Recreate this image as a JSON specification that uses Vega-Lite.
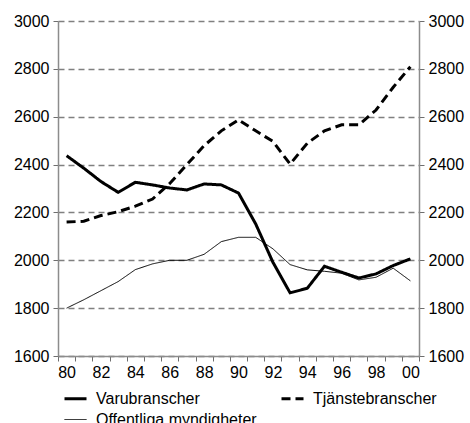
{
  "$schema": "https://vega.github.io/schema/vega-lite/v6.json",
  "width": 361,
  "height": 335,
  "autosize": "none",
  "padding": {"left": 58, "top": 21, "right": 51, "bottom": 67},
  "background": "white",
  "config": {
    "view": {"stroke": null},
    "font": "Liberation Sans",
    "axis": {"labelFont": "Liberation Sans", "labelFontSize": 16, "labelColor": "black", "domainColor": "#8c8c8c", "tickColor": "#6e6e6e", "tickSize": 5, "domainWidth": 1.5, "tickWidth": 1}
  },
  "data": {
    "values": [
      {"year": 1980, "series": "Varubranscher", "value": 2437},
      {"year": 1981, "series": "Varubranscher", "value": 2385},
      {"year": 1982, "series": "Varubranscher", "value": 2329},
      {"year": 1983, "series": "Varubranscher", "value": 2284},
      {"year": 1984, "series": "Varubranscher", "value": 2326},
      {"year": 1985, "series": "Varubranscher", "value": 2315},
      {"year": 1986, "series": "Varubranscher", "value": 2302},
      {"year": 1987, "series": "Varubranscher", "value": 2294},
      {"year": 1988, "series": "Varubranscher", "value": 2319},
      {"year": 1989, "series": "Varubranscher", "value": 2315},
      {"year": 1990, "series": "Varubranscher", "value": 2281},
      {"year": 1991, "series": "Varubranscher", "value": 2152},
      {"year": 1992, "series": "Varubranscher", "value": 1992},
      {"year": 1993, "series": "Varubranscher", "value": 1864},
      {"year": 1994, "series": "Varubranscher", "value": 1883},
      {"year": 1995, "series": "Varubranscher", "value": 1975},
      {"year": 1996, "series": "Varubranscher", "value": 1950},
      {"year": 1997, "series": "Varubranscher", "value": 1926},
      {"year": 1998, "series": "Varubranscher", "value": 1943},
      {"year": 1999, "series": "Varubranscher", "value": 1978},
      {"year": 2000, "series": "Varubranscher", "value": 2006},
      {"year": 1980, "series": "Tjänstebranscher", "value": 2160},
      {"year": 1981, "series": "Tjänstebranscher", "value": 2163},
      {"year": 1982, "series": "Tjänstebranscher", "value": 2187},
      {"year": 1983, "series": "Tjänstebranscher", "value": 2203},
      {"year": 1984, "series": "Tjänstebranscher", "value": 2226},
      {"year": 1985, "series": "Tjänstebranscher", "value": 2256},
      {"year": 1986, "series": "Tjänstebranscher", "value": 2321},
      {"year": 1987, "series": "Tjänstebranscher", "value": 2400},
      {"year": 1988, "series": "Tjänstebranscher", "value": 2479},
      {"year": 1989, "series": "Tjänstebranscher", "value": 2541},
      {"year": 1990, "series": "Tjänstebranscher", "value": 2587},
      {"year": 1991, "series": "Tjänstebranscher", "value": 2541},
      {"year": 1992, "series": "Tjänstebranscher", "value": 2497},
      {"year": 1993, "series": "Tjänstebranscher", "value": 2402},
      {"year": 1994, "series": "Tjänstebranscher", "value": 2489},
      {"year": 1995, "series": "Tjänstebranscher", "value": 2541},
      {"year": 1996, "series": "Tjänstebranscher", "value": 2566},
      {"year": 1997, "series": "Tjänstebranscher", "value": 2566},
      {"year": 1998, "series": "Tjänstebranscher", "value": 2628},
      {"year": 1999, "series": "Tjänstebranscher", "value": 2723},
      {"year": 2000, "series": "Tjänstebranscher", "value": 2809},
      {"year": 1980, "series": "Offentliga myndigheter", "value": 1800},
      {"year": 1981, "series": "Offentliga myndigheter", "value": 1835},
      {"year": 1982, "series": "Offentliga myndigheter", "value": 1873},
      {"year": 1983, "series": "Offentliga myndigheter", "value": 1911},
      {"year": 1984, "series": "Offentliga myndigheter", "value": 1961},
      {"year": 1985, "series": "Offentliga myndigheter", "value": 1985},
      {"year": 1986, "series": "Offentliga myndigheter", "value": 2000},
      {"year": 1987, "series": "Offentliga myndigheter", "value": 2000},
      {"year": 1988, "series": "Offentliga myndigheter", "value": 2025},
      {"year": 1989, "series": "Offentliga myndigheter", "value": 2078},
      {"year": 1990, "series": "Offentliga myndigheter", "value": 2096},
      {"year": 1991, "series": "Offentliga myndigheter", "value": 2096},
      {"year": 1992, "series": "Offentliga myndigheter", "value": 2048},
      {"year": 1993, "series": "Offentliga myndigheter", "value": 1982},
      {"year": 1994, "series": "Offentliga myndigheter", "value": 1960},
      {"year": 1995, "series": "Offentliga myndigheter", "value": 1954},
      {"year": 1996, "series": "Offentliga myndigheter", "value": 1946},
      {"year": 1997, "series": "Offentliga myndigheter", "value": 1918},
      {"year": 1998, "series": "Offentliga myndigheter", "value": 1929},
      {"year": 1999, "series": "Offentliga myndigheter", "value": 1967},
      {"year": 2000, "series": "Offentliga myndigheter", "value": 1914}
    ]
  },
  "layer": [
    {
      "mark": {"type": "line", "color": "black"},
      "encoding": {
        "x": {
          "field": "year", "type": "ordinal", "bandPosition": 0.5,
          "scale": {"type": "band", "paddingInner": 0, "paddingOuter": 0},
          "axis": {"title": null, "tickBand": "extent", "labelAngle": 0, "labelPadding": 3,
                   "labelExpr": "datum.value % 2 === 0 ? substring(toString(datum.value), 2) : ''"}
        },
        "y": {
          "field": "value", "type": "quantitative",
          "scale": {"domain": [1600, 3000], "nice": false, "zero": false},
          "axis": {"title": null, "format": "d", "values": [1600, 1800, 2000, 2200, 2400, 2600, 2800, 3000],
                   "grid": true, "gridDash": [6, 4], "gridColor": "#808080", "gridWidth": 1.5, "labelPadding": 4}
        },
        "strokeDash": {
          "field": "series", "type": "nominal",
          "scale": {"type": "ordinal", "domain": ["Varubranscher", "Offentliga myndigheter", "Tjänstebranscher"], "range": [[1, 0], [1, 0], [9, 5]]},
          "legend": {
            "title": null, "orient": "none", "legendX": 5, "legendY": 365, "columns": 2, "columnPadding": 18, "rowPadding": 1,
            "symbolType": "stroke", "symbolSize": 484, "symbolStrokeColor": "black", "labelFontSize": 16, "labelFont": "Liberation Sans",
            "labelColor": "black", "labelOffset": 8, "labelLimit": 300, "padding": 0
          }
        },
        "strokeWidth": {
          "field": "series", "type": "nominal",
          "scale": {"type": "ordinal", "domain": ["Varubranscher", "Offentliga myndigheter", "Tjänstebranscher"], "range": [3, 1, 3]},
          "legend": {
            "title": null, "orient": "none", "legendX": 5, "legendY": 365, "columns": 2, "columnPadding": 18, "rowPadding": 1,
            "symbolType": "stroke", "symbolSize": 484, "symbolStrokeColor": "black", "labelFontSize": 16, "labelFont": "Liberation Sans",
            "labelColor": "black", "labelOffset": 8, "labelLimit": 300, "padding": 0
          }
        }
      }
    },
    {
      "mark": {"type": "rule", "opacity": 0},
      "encoding": {
        "y": {
          "field": "value", "type": "quantitative",
          "scale": {"domain": [1600, 3000], "nice": false, "zero": false},
          "axis": {"title": null, "format": "d", "orient": "right", "values": [1600, 1800, 2000, 2200, 2400, 2600, 2800, 3000], "grid": false, "labelPadding": 4}
        }
      }
    }
  ],
  "resolve": {"scale": {"y": "independent"}}
}
